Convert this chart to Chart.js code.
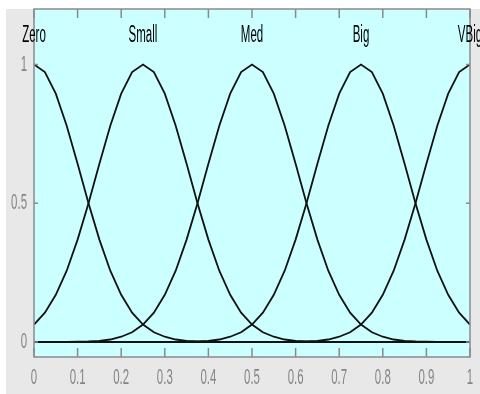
<!DOCTYPE html>
<html>
<head>
<meta charset="UTF-8">
<title>Membership functions</title>
<script src="https://cdn.jsdelivr.net/npm/chart.js"></script>
<style>
    body { margin: 0; background: #fff; }
    #wrap { width: 480px; height: 394px; }
</style>
</head>
<body>
<div id="wrap"><canvas id="mf"></canvas></div>
<script>
const xs = [0, 0.025, 0.05, 0.075, 0.1, 0.125, 0.15, 0.175, 0.2, 0.225,
            0.25, 0.275, 0.3, 0.325, 0.35, 0.375, 0.4, 0.425, 0.45, 0.475,
            0.5, 0.525, 0.55, 0.575, 0.6, 0.625, 0.65, 0.675, 0.7, 0.725,
            0.75, 0.775, 0.8, 0.825, 0.85, 0.875, 0.9, 0.925, 0.95, 0.975, 1];

const zero  = [1, .973, .895, .779, .642, .5, .369, .257, .170, .106,
               .063, .035, .019, .009, .004, .002, .001, 0, 0, 0,
               0, 0, 0, 0, 0, 0, 0, 0, 0, 0,
               0, 0, 0, 0, 0, 0, 0, 0, 0, 0, 0];
const small = [.063, .106, .170, .257, .369, .5, .642, .779, .895, .973,
               1, .973, .895, .779, .642, .5, .369, .257, .170, .106,
               .063, .035, .019, .009, .004, .002, .001, 0, 0, 0,
               0, 0, 0, 0, 0, 0, 0, 0, 0, 0, 0];
const med   = [0, 0, 0, 0, .001, .002, .004, .009, .019, .035,
               .063, .106, .170, .257, .369, .5, .642, .779, .895, .973,
               1, .973, .895, .779, .642, .5, .369, .257, .170, .106,
               .063, .035, .019, .009, .004, .002, .001, 0, 0, 0, 0];
const big   = [0, 0, 0, 0, 0, 0, 0, 0, 0, 0,
               0, 0, 0, 0, .001, .002, .004, .009, .019, .035,
               .063, .106, .170, .257, .369, .5, .642, .779, .895, .973,
               1, .973, .895, .779, .642, .5, .369, .257, .170, .106, .063];
const vbig  = [0, 0, 0, 0, 0, 0, 0, 0, 0, 0,
               0, 0, 0, 0, 0, 0, 0, 0, 0, 0,
               0, 0, 0, 0, .001, .002, .004, .009, .019, .035,
               .063, .106, .170, .257, .369, .5, .642, .779, .895, .973, 1];

const setNames   = ['Zero', 'Small', 'Med', 'Big', 'VBig'];
const setCenters = [0, 0.25, 0.5, 0.75, 1];
const xTicks = [0, 0.1, 0.2, 0.3, 0.4, 0.5, 0.6, 0.7, 0.8, 0.9, 1];
const xTickLabels = ['0', '0.1', '0.2', '0.3', '0.4', '0.5', '0.6', '0.7', '0.8', '0.9', '1'];
const yTicks = [0, 0.5, 1];
const yTickLabels = ['0', '0.5', '1'];

// the screenshot font is a tall, squeezed sans: draw it condensed
function squeezed(ctx, text, x, y, align, k) {
    ctx.save();
    ctx.translate(x, y);
    ctx.scale(k, 1);
    ctx.textAlign = align;
    ctx.textBaseline = 'middle';
    ctx.fillText(text, 0, 0);
    ctx.restore();
}

const frame = {
    id: 'frame',
    beforeDraw(chart) {
        const { ctx, chartArea: a } = chart;
        ctx.save();
        ctx.fillStyle = '#ffffff';
        ctx.fillRect(0, 0, chart.width, chart.height);
        ctx.fillStyle = '#e8e8e8';
        ctx.fillRect(6, 9, chart.width - 6, chart.height - 9);
        ctx.fillStyle = '#ccffff';
        ctx.fillRect(a.left, a.top, a.right - a.left, a.bottom - a.top);
        ctx.restore();
    },
    afterDraw(chart) {
        const { ctx, chartArea: a, scales } = chart;
        ctx.save();
        ctx.strokeStyle = '#8a8a8a';
        ctx.lineWidth = 1.5;
        ctx.strokeRect(a.left, a.top, a.right - a.left, a.bottom - a.top);
        ctx.beginPath();
        xTicks.forEach(v => {
            const px = scales.x.getPixelForValue(v);
            ctx.moveTo(px, a.bottom); ctx.lineTo(px, a.bottom - 9);
            ctx.moveTo(px, a.top); ctx.lineTo(px, a.top + 9);
        });
        yTicks.forEach(v => {
            const py = scales.y.getPixelForValue(v);
            ctx.moveTo(a.left, py); ctx.lineTo(a.left + 4, py);
            ctx.moveTo(a.right, py); ctx.lineTo(a.right - 4, py);
        });
        ctx.stroke();

        ctx.font = '22px "Liberation Sans", Arial, sans-serif';
        ctx.fillStyle = '#858585';
        xTicks.forEach((v, i) => {
            squeezed(ctx, xTickLabels[i], scales.x.getPixelForValue(v), a.bottom + 21, 'center', 0.52);
        });
        yTicks.forEach((v, i) => {
            squeezed(ctx, yTickLabels[i], a.left - 7, scales.y.getPixelForValue(v), 'right', 0.52);
        });

        ctx.font = '23px "Liberation Sans", Arial, sans-serif';
        ctx.fillStyle = '#000';
        setNames.forEach((n, i) => {
            squeezed(ctx, n, scales.x.getPixelForValue(setCenters[i]), scales.y.getPixelForValue(1.105), 'center', 0.5);
        });
        ctx.restore();
    }
};

const mk = (d) => xs.map((x, i) => ({ x: x, y: d[i] }));
const series = [zero, small, med, big, vbig];

new Chart(document.getElementById('mf'), {
    type: 'line',
    data: {
        datasets: series.map((d, i) => ({
            label: setNames[i],
            data: mk(d),
            borderColor: '#111',
            borderWidth: 1.8,
            pointRadius: 0,
            tension: 0,
            fill: false
        }))
    },
    options: {
        responsive: true,
        maintainAspectRatio: false,
        animation: false,
        events: [],
        layout: { padding: { left: 6, top: 9, right: 10, bottom: 0 } },
        plugins: { legend: { display: false }, tooltip: { enabled: false } },
        scales: {
            x: {
                type: 'linear', min: 0, max: 1,
                grid: { display: false, drawTicks: false },
                border: { display: false },
                afterBuildTicks: s => { s.ticks = xTicks.map(v => ({ value: v })); },
                afterFit: s => { s.height = 37; s.paddingLeft = 0; s.paddingRight = 0; },
                ticks: { display: false }
            },
            y: {
                type: 'linear', min: -0.054, max: 1.2,
                grid: { display: false, drawTicks: false },
                border: { display: false },
                afterBuildTicks: s => { s.ticks = yTicks.map(v => ({ value: v })); },
                afterFit: s => { s.width = 28; s.paddingTop = 0; s.paddingBottom = 0; },
                ticks: { display: false }
            }
        }
    },
    plugins: [frame]
});
</script>
</body>
</html>
